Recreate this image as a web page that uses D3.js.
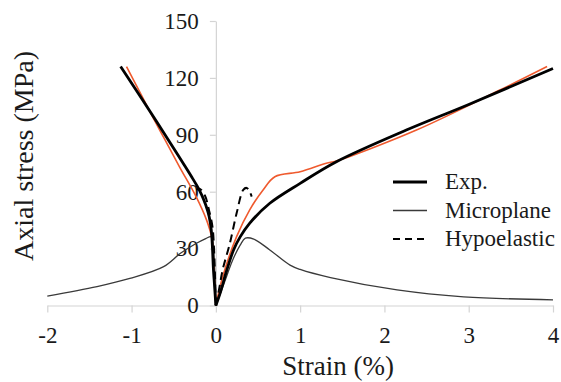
<!DOCTYPE html>
<html><head><meta charset="utf-8">
<script src="https://cdn.jsdelivr.net/npm/d3@7"></script>
<style>
html,body{margin:0;padding:0;background:#fff;}
svg{display:block;}
svg text{font-family:"Liberation Serif","Times New Roman",serif !important;fill:#1a1a1a;}
</style></head>
<body>
<svg id="chart" width="561" height="382"></svg>
<script>
// ---- data: [strain (%), axial stress (MPa)] ----
const xTicks = [-2, -1, 0, 1, 2, 3, 4];
const yTicks = [0, 30, 60, 90, 120, 150];

const expCompression = [[0,0],[-0.015,10],[-0.03,20],[-0.04,30],[-0.055,40],[-0.08,47],[-0.12,53],[-0.17,58.5],[-0.22,62.8],[-0.29,68],[-0.36,73],[-0.45,79.3],[-0.7,96.8],[-1.13,126]];
const expTension = [[0,0],[0.05,6.4],[0.13,18.7],[0.21,29.3],[0.29,36.3],[0.40,43.3],[0.64,53.9],[1.0,64.4],[1.43,75.8],[2.26,92.5],[3.0,106],[4.0,125]];

const fitCompression = [[0,0],[-0.015,12],[-0.03,25],[-0.05,36],[-0.11,45],[-0.23,57],[-0.43,73],[-0.6,87],[-0.75,99.5],[-1.06,126]];
const fitTension = [[0,0],[0.08,15],[0.246,36.3],[0.40,50.3],[0.56,60.9],[0.70,67.9],[1.0,70.5],[1.31,75],[1.43,76.2],[2.38,92.5],[3.37,113.6],[3.93,126]];

const microCompression = [[0,0],[-0.02,25],[-0.04,35],[-0.06,36.3],[-0.12,35.3],[-0.23,32.8],[-0.42,27.5],[-0.62,20.5],[-1.02,14.3],[-1.41,10],[-2.0,5]];
const microTension = [[0,0],[0.1,12],[0.2,24],[0.29,32],[0.35,35.5],[0.45,35],[0.64,29.3],[0.88,21.3],[1.0,19],[1.36,14.7],[2.15,8.2],[2.94,4.6],[4.0,3]];

const hypoCompression = [[0,0],[-0.01,15],[-0.02,28],[-0.04,41.5],[-0.08,50],[-0.13,58],[-0.19,61.5],[-0.23,61]];
const hypoTension = [[0,0],[0.04,9],[0.08,18.7],[0.166,32.8],[0.246,48.6],[0.325,61],[0.365,62],[0.395,60.5],[0.425,57.4]];

const legendLabels = ["Exp.", "Microplane", "Hypoelastic"];

// ---- drawing ----
const FONT = "'Liberation Serif','Times New Roman',serif";
const svg = d3.select("#chart");
const x = d3.scaleLinear().domain([-2, 4]).range([47.3, 553]);
const y = d3.scaleLinear().domain([0, 150]).range([305.5, 21]);
const axisColor = "#d4d4d4";

// x axis
const gx = svg.append("g").attr("transform", `translate(0,${y(0)})`)
  .call(d3.axisBottom(x).tickValues(xTicks).tickSize(7).tickSizeOuter(0).tickPadding(14).tickFormat(d => String(d)));
gx.attr("font-family", null);
gx.select(".domain").attr("stroke", axisColor).attr("stroke-width", 1.2);
gx.selectAll(".tick line").attr("stroke", axisColor).attr("stroke-width", 1.2);
gx.selectAll(".tick text").attr("font-size", 23).style("font-family", FONT).attr("fill", "#1a1a1a");

// y axis at strain 0
const gy = svg.append("g").attr("transform", `translate(${x(0)},0)`)
  .call(d3.axisLeft(y).tickValues(yTicks).tickSize(6).tickSizeOuter(0).tickPadding(11).tickFormat(d => String(d)));
gy.attr("font-family", null);
gy.select(".domain").attr("stroke", axisColor).attr("stroke-width", 1.2);
gy.selectAll(".tick line").attr("stroke", axisColor).attr("stroke-width", 1.2);
gy.selectAll(".tick text").attr("font-size", 23).style("font-family", FONT).attr("fill", "#1a1a1a");

const line = d3.line().x(d => x(d[0])).y(d => y(d[1])).curve(d3.curveCatmullRom.alpha(0.5));

function branch(data, color, width, dash) {
  const p = svg.append("path").datum(data).attr("d", line)
    .attr("fill", "none").attr("stroke", color).attr("stroke-width", width)
    .attr("stroke-linejoin", "round").attr("stroke-linecap", "butt");
  if (dash) p.attr("stroke-dasharray", dash);
}

branch(microCompression, "#3a3a3a", 1.3);
branch(microTension, "#3a3a3a", 1.3);
branch(fitCompression, "#ef5a2e", 1.6);
branch(fitTension, "#ef5a2e", 1.6);
branch(expCompression, "#000", 2.8);
branch(expTension, "#000", 2.8);
branch(hypoCompression, "#000", 2, "8,5");
branch(hypoTension, "#000", 2, "8,5");

// legend
const legendStyles = [
  {stroke: "#000", width: 2.8, dash: null},
  {stroke: "#3a3a3a", width: 1.3, dash: null},
  {stroke: "#000", width: 2, dash: "7,5"}
];
const lg = svg.append("g");
legendLabels.forEach((lab, i) => {
  const yy = 182 + i * 28.5;
  const st = legendStyles[i];
  const l = lg.append("line").attr("x1", 393).attr("x2", 427).attr("y1", yy).attr("y2", yy)
    .attr("stroke", st.stroke).attr("stroke-width", st.width);
  if (st.dash) l.attr("stroke-dasharray", st.dash);
  lg.append("text").attr("x", 445).attr("y", yy + 7).attr("font-size", 23).style("font-family", FONT).text(lab);
});

// axis titles
svg.append("text").attr("x", x(1.45)).attr("y", 375).attr("text-anchor", "middle")
  .attr("font-size", 27).style("font-family", FONT).text("Strain (%)");
svg.append("text").attr("transform", `translate(33,156) rotate(-90)`).attr("text-anchor", "middle")
  .attr("font-size", 28).style("font-family", FONT).text("Axial stress (MPa)");
</script>
</body></html>
